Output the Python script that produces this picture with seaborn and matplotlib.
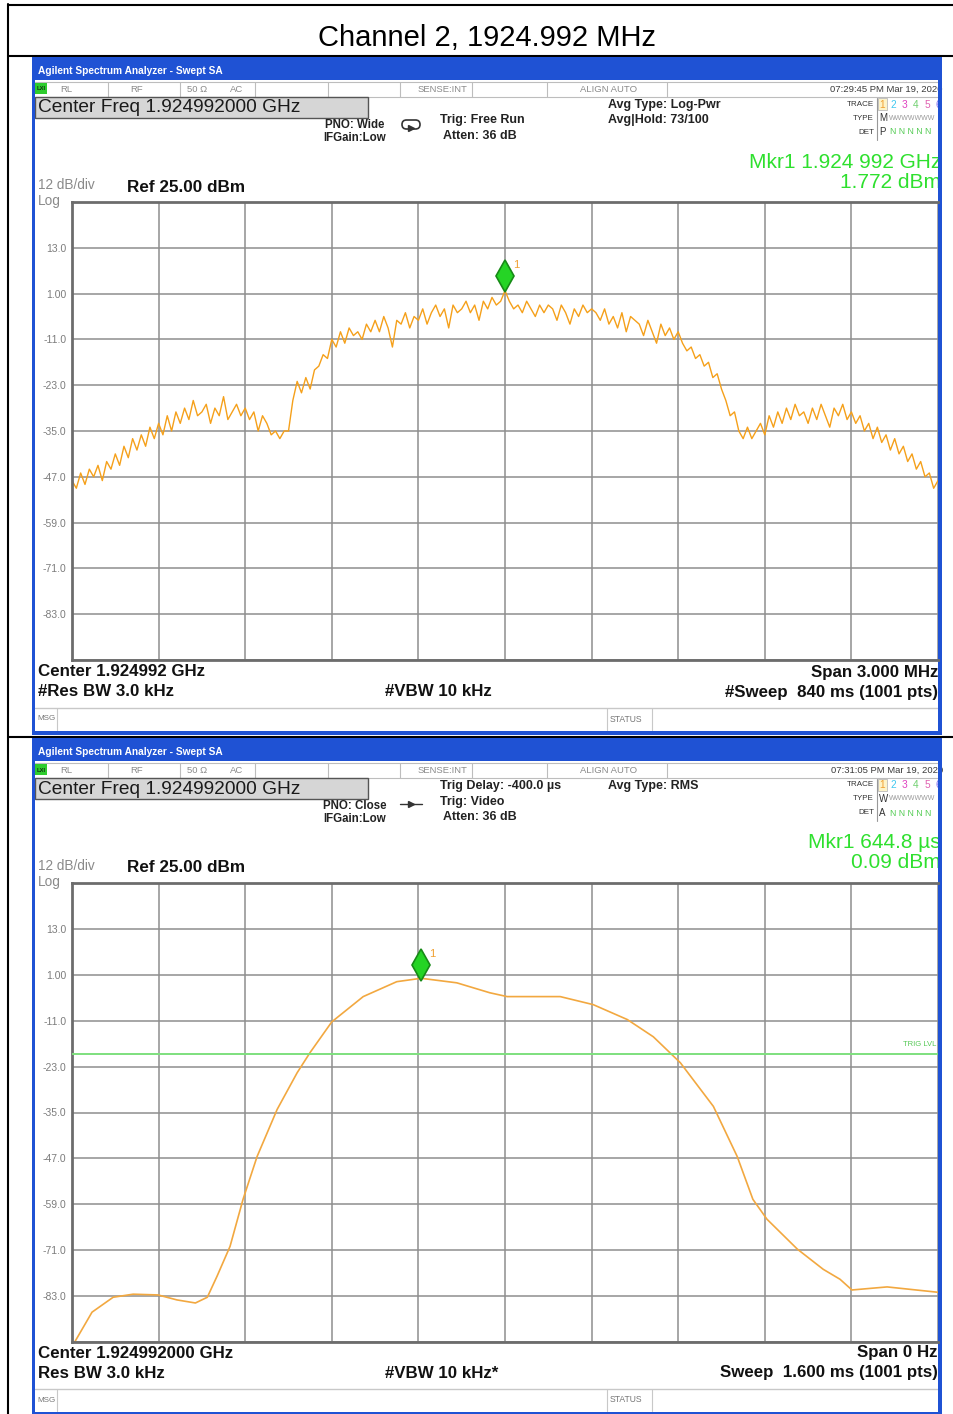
import numpy as np
import pandas as pd
import matplotlib
matplotlib.use("Agg")
import matplotlib.pyplot as plt
import matplotlib.transforms as mtransforms
from matplotlib.patches import Rectangle, FancyBboxPatch
import seaborn as sns

# ---- DATA ----
title = "Channel 2, 1924.992 MHz"
center_mhz = 1924.992
span_mhz = 3.0
ref_dbm = 25.0
db_per_div = 12.0
y_tick_values = [-95, -83, -71, -59, -47, -35, -23, -11, 1, 13, 25]
y_tick_labels = ["", "-83.0", "-71.0", "-59.0", "-47.0", "-35.0", "-23.0", "-11.0", "1.00", "13.0", ""]

# swept trace (dBm), 201 readings across the 3 MHz span
swept_dbm = [
    -48, -50, -46, -49, -45, -47, -44, -48, -43, -45,
    -41, -44, -39, -42, -37, -40, -36, -39, -34, -37,
    -33, -36, -31, -35, -30, -33, -29, -32, -27, -31,
    -30, -28, -33, -29, -31, -26, -32, -30, -28, -31,
    -29, -32, -30, -35, -31, -33, -36, -35, -37, -35,
    -35, -27, -22, -25, -21, -24, -19, -18, -15, -16,
    -11, -13, -9, -12, -8, -10, -9, -11, -7, -9,
    -6, -9, -5, -8, -13, -6, -7, -4, -8, -5,
    -6, -3, -7, -4, -2, -5, -3, -8, -2, -4,
    -3, -1, -4, -2, -6, -1, -3, 0, -2, -1,
    1.77,
    -1, -3, -2, -4, -1, -3, -5, -2, -4, -2,
    -3, -6, -2, -4, -7, -3, -5, -2, -4, -3,
    -4, -6, -3, -7, -5, -8, -4, -9, -5, -6,
    -7, -10, -6, -9, -12, -7, -10, -8, -11, -9,
    -12, -14, -13, -16, -15, -18, -17, -21, -20, -24,
    -27, -31, -30, -35, -37, -34, -37, -35, -33, -36,
    -31, -34, -30, -33, -29, -32, -28, -31, -30, -33,
    -29, -32, -28, -31, -34, -29, -31, -28, -32, -30,
    -33, -31, -35, -33, -37, -34, -38, -36, -40, -37,
    -41, -39, -43, -41, -45, -43, -47, -46, -50, -48,
]
mkr_swept_mhz = 1924.992
mkr_swept_dbm = 1.772

# zero-span trace
sweep_ms = 1.6
zero_span_ms = [0.005, 0.037, 0.076, 0.113, 0.159, 0.194, 0.228, 0.250, 0.268, 0.292,
                0.316, 0.342, 0.379, 0.416, 0.440, 0.480, 0.538, 0.600, 0.645, 0.711,
                0.772, 0.804, 0.902, 0.963, 1.026, 1.074, 1.124, 1.185, 1.229, 1.258,
                1.284, 1.340, 1.388, 1.419, 1.441, 1.506, 1.600]
zero_span_dbm = [-95, -87.2, -83.3, -82.5, -82.7, -84.0, -84.8, -83.3, -77.8, -70.0,
                 -57.7, -46.5, -34.2, -24.6, -19.3, -11.3, -4.7, -0.8, 0.09, -1.1,
                 -3.7, -4.7, -4.7, -6.8, -10.7, -15.2, -22.0, -33.4, -46.5, -57.7,
                 -62.9, -70.7, -76.0, -78.6, -81.4, -80.6, -82.0]
mkr_zero_ms = 0.6448
mkr_zero_dbm = 0.09
trig_lvl_dbm = -19.6

status_items = ["RL", "RF", "50 \u03a9", "AC", "SENSE:INT", "ALIGN AUTO"]
status_x = [60, 130, 187, 230, 418, 580]
status_seps = [108, 180, 255, 328, 400, 472, 547, 667]
trace_nums = ["1", "2", "3", "4", "5", "6"]
trace_cols = ["#f0a030", "#40c8f0", "#e040c0", "#70d070", "#e060b0", "#8070f0"]

panels = [
    dict(dy=0, time="07:29:45 PM Mar 19, 2020",
         pno=["PNO: Wide", "IFGain:Low"],
         trig=["Trig: Free Run", "Atten: 36 dB"],
         avg=["Avg Type: Log-Pwr", "Avg|Hold: 73/100"],
         type_="M", det="P",
         mkr=["Mkr1 1.924 992 GHz", "1.772 dBm"],
         foot=["Center 1.924992 GHz", "Span 3.000 MHz", "#Res BW 3.0 kHz",
               "#VBW 10 kHz", "#Sweep  840 ms (1001 pts)"]),
    dict(dy=681, time="07:31:05 PM Mar 19, 2020",
         pno=["PNO: Close", "IFGain:Low"],
         trig=["Trig Delay: -400.0 \u00b5s", "Trig: Video", "Atten: 36 dB"],
         avg=["Avg Type: RMS"],
         type_="W", det="A",
         mkr=["Mkr1 644.8 \u00b5s", "0.09 dBm"],
         foot=["Center 1.924992000 GHz", "Span 0 Hz", "Res BW 3.0 kHz",
               "#VBW 10 kHz*", "Sweep  1.600 ms (1001 pts)"]),
]

sns.set_style("white")
plt.rcParams["font.family"] = ["Liberation Sans", "DejaVu Sans"]

W, H = 954, 1414
fig = plt.figure(figsize=(W / 100, H / 100), dpi=100)
bg = fig.add_axes([0, 0, 1, 1])
bg.set_xlim(0, W)
bg.set_ylim(H, 0)
bg.axis("off")

# table lines + title row
for yy in [4.5, 55.5, 737]:
    bg.plot([8, W], [yy, yy], color="black", lw=1.5, zorder=0)
bg.plot([8.5, 8.5], [4, H], color="black", lw=1.5, zorder=0)
bg.text(487, 38, title, ha="center", va="center", fontsize=21, color="black")

BLUE = "#1f52d4"


def draw_chrome(p):
    dy = p["dy"]
    top = 57 + dy
    bg.add_patch(Rectangle((32, top), 910, 678, fc="white", ec="none", zorder=1))
    bg.add_patch(Rectangle((32, top), 910, 23, fc=BLUE, ec="none", zorder=8))
    bg.text(38, top + 14, "Agilent Spectrum Analyzer - Swept SA", color="white",
            fontsize=7.3, weight="bold", va="center", zorder=9)
    # borders
    bg.add_patch(Rectangle((32, top), 3.5, 678, fc=BLUE, ec="none", zorder=8))
    bg.add_patch(Rectangle((938, top), 4.5, 678, fc=BLUE, ec="none", zorder=8))
    bg.add_patch(Rectangle((32, 731 + dy), 910, 4, fc=BLUE, ec="none", zorder=8))

    # status row
    for yy in [82, 97]:
        bg.plot([35, 938], [yy + dy, yy + dy], color="#bdbdbd", lw=0.8, zorder=2)
    for x in status_seps:
        bg.plot([x, x], [82 + dy, 97 + dy], color="#bdbdbd", lw=0.8, zorder=2)
    bg.add_patch(Rectangle((35, 83 + dy), 12, 11, fc="#2ecc2e", ec="none", zorder=3))
    bg.text(41, 89 + dy, "LXI", fontsize=4.2, ha="center", va="center",
            weight="bold", color="#113311", zorder=4)
    for s, x in zip(status_items, status_x):
        bg.text(x, 89.5 + dy, s, fontsize=6.8, color="#8a8a8a", va="center", zorder=3)
    bg.text(943, 89.5 + dy, p["time"], ha="right", fontsize=6.8, color="#3a3a3a",
            va="center", zorder=3)

    # center freq box
    bg.add_patch(Rectangle((35, 97 + dy), 333, 21, fc="#d6d6d6", ec="#555555",
                           lw=1, zorder=3))
    bg.text(38, 108 + dy, "Center Freq 1.924992000 GHz", fontsize=13.8,
            color="#1a1a1a", va="center", zorder=4)

    # settings text
    for k, s in enumerate(p["pno"]):
        bg.text(355, 125 + 13 * k + dy, s, ha="center", va="center", fontsize=8.3,
                weight="bold", color="#222222", zorder=3)
    n = len(p["trig"])
    for k, s in enumerate(p["trig"]):
        x = 443 if s.startswith("Atten") else 440
        bg.text(x, 136 - 15.5 * (n - 1 - k) + dy, s, va="center", fontsize=9,
                weight="bold", color="#222222", zorder=3)
    for k, s in enumerate(p["avg"]):
        bg.text(608, 105 + 15 * k + dy, s, va="center", fontsize=9,
                weight="bold", color="#222222", zorder=3)

    if dy == 0:
        bg.add_patch(FancyBboxPatch((402, 120), 18, 9,
                                    boxstyle="round,pad=0,rounding_size=4.5",
                                    fc="none", ec="#333333", lw=1.2, zorder=3))
        bg.plot([411], [128], marker=">", ms=4, color="#333333", zorder=4)
    else:
        bg.plot([400, 422], [805 - 1, 805 - 1], color="#333333", lw=1, zorder=3)
        bg.plot([411], [804], marker=">", ms=5, color="#333333", zorder=4)

    # trace legend block
    for k, lab in enumerate(["TRACE", "TYPE", "DET"]):
        bg.text(874, 104 + 14 * k + dy, lab, ha="right", va="center",
                fontsize=5.8, color="#333333", zorder=3)
    bg.plot([877, 877], [98 + dy, 140 + dy], color="#999999", lw=0.8, zorder=3)
    bg.add_patch(Rectangle((878, 98 + dy), 9, 12, fc="#fdf3c8", ec="#bbbbbb",
                           lw=0.6, zorder=3))
    for k, (t, c) in enumerate(zip(trace_nums, trace_cols)):
        bg.text(882 + 11.3 * k, 104.5 + dy, t, ha="center", va="center",
                fontsize=7.3, color=c, zorder=4)
    bg.text(879, 118 + dy, p["type_"], va="center", fontsize=7, color="#333333", zorder=4)
    bg.text(889, 118 + dy, "WWWWWWW", va="center", fontsize=5, color="#9a9a9a", zorder=4)
    bg.text(879, 132 + dy, p["det"], va="center", fontsize=7, color="#333333", zorder=4)
    bg.text(890, 132 + dy, "N N N N N", va="center", fontsize=6.3, color="#55cc55", zorder=4)

    # marker readout
    bg.text(941, 162 + dy, p["mkr"][0], ha="right", va="center", fontsize=15,
            color="#2ee02e", zorder=4)
    bg.text(941, 182 + dy, p["mkr"][1], ha="right", va="center", fontsize=15,
            color="#2ee02e", zorder=4)

    # scale text
    bg.text(38, 185 + dy, "12 dB/div", va="center", fontsize=9.8, color="#8a8a8a", zorder=3)
    bg.text(38, 201 + dy, "Log", va="center", fontsize=9.8, color="#8a8a8a", zorder=3)
    bg.text(127, 187 + dy, "Ref 25.00 dBm", va="center", fontsize=12.3,
            weight="bold", color="#111111", zorder=3)

    # footer
    f = p["foot"]
    kw = dict(va="center", fontsize=12.2, weight="bold", color="#111111", zorder=3)
    bg.text(38, 672 + dy, f[0], **kw)
    bg.text(938, 672 + dy, f[1], ha="right", **kw)
    bg.text(38, 692 + dy, f[2], **kw)
    bg.text(385, 692 + dy, f[3], **kw)
    bg.text(938, 692 + dy, f[4], ha="right", **kw)

    # msg bar
    bg.plot([35, 938], [708 + dy, 708 + dy], color="#c8c8c8", lw=1, zorder=2)
    for x in [57, 607, 652]:
        bg.plot([x, x], [708 + dy, 730 + dy], color="#c8c8c8", lw=0.8, zorder=2)
    bg.text(37, 719 + dy, "MSG", va="center", fontsize=5.8, color="#777777", zorder=3)
    bg.text(610, 719 + dy, "STATUS", va="center", fontsize=6.2, color="#777777", zorder=3)


def style_plot(ax):
    ax.set_ylim(y_tick_values[0], y_tick_values[-1])
    ax.set_yticks(y_tick_values)
    ax.set_yticklabels(y_tick_labels)
    ax.tick_params(axis="y", length=0, pad=4, labelsize=7.5, labelcolor="#7c7c7c")
    ax.tick_params(axis="x", length=0, labelbottom=False)
    ax.grid(True, color="#8e8e8e", lw=1.1)
    ax.set_axisbelow(True)
    for side, sp in ax.spines.items():
        sp.set_color("#6c6c6c")
        sp.set_linewidth(2)
    ax.spines["right"].set_visible(False)
    ax.set_xlabel("")
    ax.set_ylabel("")
    if ax.get_legend() is not None:
        ax.get_legend().remove()


def draw_marker(ax, x, y, dy_px, lab_dx, lab_dy):
    tr = mtransforms.offset_copy(ax.transData, fig=fig, x=0, y=dy_px, units="dots")
    ax.plot([x], [y], marker="d", ms=16, mfc="#25d425", mec="#178a17", mew=1.2,
            transform=tr, clip_on=False, zorder=6)
    tr2 = mtransforms.offset_copy(ax.transData, fig=fig, x=lab_dx, y=lab_dy, units="dots")
    ax.text(x, y, "1", transform=tr2, fontsize=8, color="#f0a030", ha="center",
            va="center", zorder=6)


for p in panels:
    draw_chrome(p)

# ---- top: swept spectrum ----
freq_mhz = np.linspace(center_mhz - span_mhz / 2, center_mhz + span_mhz / 2, len(swept_dbm))
df_swept = pd.DataFrame({"freq_mhz": freq_mhz, "dbm": swept_dbm})
ax1 = fig.add_axes([72 / W, 1 - 660 / H, 866 / W, 458 / H])
sns.lineplot(data=df_swept, x="freq_mhz", y="dbm", ax=ax1, color="#f5a01a",
             lw=1.0, estimator=None, sort=False)
ax1.set_xlim(freq_mhz[0], freq_mhz[-1])
ax1.set_xticks(np.linspace(freq_mhz[0], freq_mhz[-1], 11))
style_plot(ax1)
draw_marker(ax1, mkr_swept_mhz, mkr_swept_dbm, 15, 11, 26)

# ---- bottom: zero span ----
df_zero = pd.DataFrame({"t_ms": zero_span_ms, "dbm": zero_span_dbm})
ax2 = fig.add_axes([72 / W, 1 - 1342 / H, 866 / W, 459 / H])
sns.lineplot(data=df_zero, x="t_ms", y="dbm", ax=ax2, color="#f2a840",
             lw=1.2, estimator=None, sort=False)
ax2.set_xlim(0, sweep_ms)
ax2.set_xticks(np.linspace(0, sweep_ms, 11))
ax2.axhline(trig_lvl_dbm, color="#7ee07e", lw=1.4, zorder=3)
ax2.text(0.998, trig_lvl_dbm + 1.5, "TRIG LVL",
         transform=mtransforms.blended_transform_factory(ax2.transAxes, ax2.transData),
         ha="right", va="bottom", fontsize=5.5, color="#55c855")
style_plot(ax2)
draw_marker(ax2, mkr_zero_ms, mkr_zero_dbm, 13, 11, 24)

fig.savefig("out.png", dpi=100)
